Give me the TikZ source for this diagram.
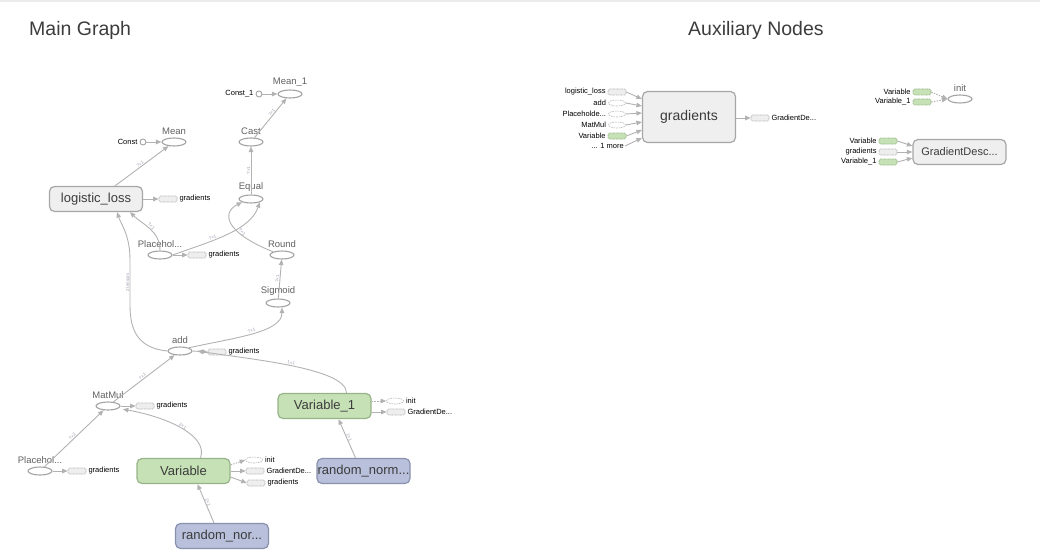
\documentclass[tikz,border=0pt]{standalone}
\usepackage{fontspec}
\setmainfont{Liberation Sans}
\usetikzlibrary{shapes.geometric, positioning, arrows.meta}

\definecolor{edgegrey}{HTML}{B2B2B2}
\definecolor{edgetxt}{HTML}{9A9CB0}
\definecolor{opline}{HTML}{A4A4A4}
\definecolor{nametxt}{HTML}{606060}
\definecolor{boxfill}{HTML}{EFEFEF}
\definecolor{boxline}{HTML}{A6A6A6}
\definecolor{boxtxt}{HTML}{3C3C3C}
\definecolor{varfill}{HTML}{C6E1B5}
\definecolor{varline}{HTML}{97B488}
\definecolor{randfill}{HTML}{B8C0DB}
\definecolor{randline}{HTML}{8A91AC}
\definecolor{stubfill}{HTML}{EEEEEE}
\definecolor{stubline}{HTML}{B4B4B4}
\definecolor{topline}{HTML}{EBEBEB}

\tikzset{
	title/.style={font=\fontsize{19.5}{21}\selectfont, text=boxtxt, inner sep=0pt},
	op/.style={ellipse, draw=opline, fill=white, line width=1.1pt, minimum width=24pt, minimum height=8pt, inner sep=0pt},
	opname/.style={font=\fontsize{9.5}{10}\selectfont, text=nametxt, inner sep=0pt},
	const/.style={circle, draw=opline, fill=white, line width=0.9pt, minimum size=6pt, inner sep=0pt},
	meta/.style={draw=boxline, fill=boxfill, line width=1.2pt, rounded corners=5pt, minimum width=93pt, minimum height=25pt, inner sep=0pt, font=\fontsize{13}{14}\selectfont, text=boxtxt},
	varbox/.style={meta, draw=varline, fill=varfill},
	randbox/.style={meta, draw=randline, fill=randfill},
	stubrect/.style={draw=stubline, fill=stubfill, dash pattern=on 1pt off 0.6pt, line width=0.6pt, rounded corners=1.5pt, minimum width=18pt, minimum height=6pt, inner sep=0pt},
	stubop/.style={ellipse, draw=stubline, fill=white, dash pattern=on 1.5pt off 1pt, line width=0.6pt, minimum width=17pt, minimum height=6pt, inner sep=0pt},
	stubvar/.style={stubrect, draw=varline, fill=varfill},
	small/.style={font=\fontsize{7.5}{8}\selectfont, inner sep=1pt},
	flow/.style={draw=edgegrey, line width=0.9pt, -{Triangle[length=5.5pt, width=4.5pt]}},
	ctrl/.style={flow, dash pattern=on 1.5pt off 1.2pt},
	elab/.style={font=\fontsize{4.5}{5}\selectfont, text=edgetxt, sloped, inner sep=0.5pt}
}

\begin{document}
\begin{tikzpicture}[x=1pt, y=-1pt]
	\useasboundingbox (0,0) rectangle (1040,559);
	\fill[topline] (0,0) rectangle (1040,2);

	\node[title, anchor=west] (maintitle) at (29,30) {Main Graph};
	\node[title, anchor=west] (auxtitle) at (688,30) {Auxiliary Nodes};

	\node[op] (mean1) at (290,94) {};
	\node[opname, above=3pt of mean1] (mean1name) {Mean\_1};
	\node[const] (const1) at (259,94) {};
	\node[small, left=1pt of const1] (const1name) {Const\_1};
	\node[op] (cast) at (251,142) {};
	\node[opname, above=3pt of cast] (castname) {Cast};
	\node[op] (mean) at (174,142) {};
	\node[opname, above=3pt of mean] (meanname) {Mean};
	\node[const] (const) at (143,142) {};
	\node[small, left=1pt of const] (constname) {Const};
	\node[meta] (loss) at (96,199) {logistic\_loss};
	\node[stubrect] (lossgrad) at (168,199) {};
	\node[small, right=1pt of lossgrad] (lossgradname) {gradients};
	\node[op] (equal) at (251,199) {};
	\node[opname, above=3pt of equal] (equalname) {Equal};
	\node[op] (phy) at (160,255) {};
	\node[opname, above=3pt of phy] (phyname) {Placehol...};
	\node[stubrect] (phygrad) at (197,255) {};
	\node[small, right=1pt of phygrad] (phygradname) {gradients};
	\node[op] (round) at (282,255) {};
	\node[opname, above=3pt of round] (roundname) {Round};
	\node[op] (sigmoid) at (278,303) {};
	\node[opname, above=3pt of sigmoid] (sigmoidname) {Sigmoid};
	\node[op] (add) at (180,351) {};
	\node[opname, above=3pt of add] (addname) {add};
	\node[stubrect] (addgrad) at (217,352) {};
	\node[small, right=1pt of addgrad] (addgradname) {gradients};
	\node[op] (matmul) at (108,406) {};
	\node[opname, above=3pt of matmul] (matmulname) {MatMul};
	\node[stubrect] (matmulgrad) at (145,406) {};
	\node[small, right=1pt of matmulgrad] (matmulgradname) {gradients};
	\node[op] (phx) at (40,471) {};
	\node[opname, above=3pt of phx] (phxname) {Placehol...};
	\node[stubrect] (phxgrad) at (77,471) {};
	\node[small, right=1pt of phxgrad] (phxgradname) {gradients};
	\node[varbox] (var) at (183.5,471) {Variable};
	\node[stubop] (varinit) at (254,460) {};
	\node[small, right=1pt of varinit] (varinitname) {init};
	\node[stubrect] (vargd) at (255,471) {};
	\node[small, right=1pt of vargd] (vargdname) {GradientDe...};
	\node[stubrect] (vargrad) at (256,483) {};
	\node[small, right=1pt of vargrad] (vargradname) {gradients};
	\node[randbox] (rnw) at (222,536) {random\_nor...};
	\node[varbox] (var1) at (324.5,406) {Variable\_1};
	\node[stubop] (var1init) at (395,401) {};
	\node[small, right=1pt of var1init] (var1initname) {init};
	\node[stubrect] (var1gd) at (396,412) {};
	\node[small, right=1pt of var1gd] (var1gdname) {GradientDe...};
	\node[randbox] (rnb) at (363.5,471) {random\_norm...};

	\draw[flow] (const1) -- (mean1);
	\draw[flow] (const) -- (mean);
	\draw[flow] (cast) -- node[elab, above, pos=0.6] {?×1} (mean1);
	\draw[flow] (equal) -- node[elab, above] {?×1} (cast);
	\draw[flow] ([xshift=19pt]loss.north) -- node[elab, above] {?×1} (mean);
	\draw[flow] (loss.east) -- (lossgrad.west);
	\draw[flow] (phy.north) .. controls +(0,-20) and +(12,12) .. node[elab, above] {?×1} ([xshift=34pt]loss.south);
	\draw[flow] (phy.east) .. controls (215,240) and (250,230) .. node[elab, above, pos=0.35] {?×1} (equal.south east);
	\draw[flow] (round.north west) .. controls +(-50,-20) and +(-20,10) .. node[elab, above, pos=0.3] {?×1} (equal.south west);
	\draw[flow] (phy.east) -- (phygrad.west);
	\draw[flow] (sigmoid) -- node[elab, above] {?×1} (round);
	\draw[flow] (add.north east) .. controls +(45,-10) and +(0,25) .. node[elab, above] {?×1} ([xshift=4pt]sigmoid.south);
	\draw[flow] (add.west) .. controls +(-30,-3) and +(0,25) .. (130,305) -- node[elab, above] {2 tensors} (130,260) .. controls +(0,-25) and +(4,12) .. ([xshift=21pt]loss.south);
	\draw[flow] (add.east) -- (addgrad.west);
	\draw[flow] ([xshift=22pt]var1.north) .. controls +(0,-25) and +(50,8) .. node[elab, above] {1×1} ([xshift=5pt]add.east);
	\draw[flow] (matmul) -- node[elab, above] {?×1} (add);
	\draw[flow] (matmul.east) -- (matmulgrad.west);
	\draw[flow] ([xshift=17pt]var.north) .. controls +(8,-22) and +(45,8) .. node[elab, above] {2×1} ([xshift=6pt]matmul.south east);
	\draw[flow] (phx) -- node[elab, above] {?×2} (matmul);
	\draw[flow] (phx.east) -- (phxgrad.west);
	\draw[ctrl] ([yshift=6pt]var.east) -- (varinit.west);
	\draw[flow] (var.east) -- (vargd.west);
	\draw[flow] ([yshift=-6pt]var.east) -- (vargrad.west);
	\draw[flow] ([xshift=-8pt]rnw.north) -- node[elab, above] {2×1} ([xshift=14pt]var.south);
	\draw[ctrl] ([yshift=5pt]var1.east) -- (var1init.west);
	\draw[flow] ([yshift=-6pt]var1.east) -- (var1gd.west);
	\draw[flow] ([xshift=-8pt]rnb.north) -- node[elab, above] {1×1} ([xshift=14pt]var1.south);

	\node[meta, minimum height=51pt, font=\fontsize{14}{15}\selectfont] (grads) at (689,117) {gradients};
	\foreach \y/\ey/\nm/\txt/\sty in {
		92/99/gin1/{logistic\_loss}/stubrect,
		103/106/gin2/{add}/stubop,
		114/113/gin3/{Placeholde...}/stubop,
		125/122/gin4/{MatMul}/stubop,
		136/130/gin5/{Variable}/stubvar}{
		\node[\sty] (\nm) at (617,\y) {};
		\node[small, left=1pt of \nm] (\nm name) {\txt};
		\draw[flow] (\nm.east) -- (grads.west |- 0,\ey);
	}
	\node[small, anchor=east] (gmore) at (625,146) {... 1 more};
	\draw[flow] (gmore.east) -- (grads.west |- 0,138);
	\node[stubrect] (gout) at (760,118) {};
	\node[small, right=1pt of gout] (goutname) {GradientDe...};
	\draw[flow] (grads.east |- gout) -- (gout.west);

	\node[op] (init) at (960,99) {};
	\node[opname, above=3pt of init] (initname) {init};
	\node[stubvar] (iin1) at (922,92) {};
	\node[small, left=1pt of iin1] (iin1name) {Variable};
	\node[stubvar] (iin2) at (922,102) {};
	\node[small, left=1pt of iin2] (iin2name) {Variable\_1};
	\draw[ctrl] (iin1.east) -- (init.west);
	\draw[ctrl] (iin2.east) -- (init.west);

	\node[meta, font=\fontsize{11}{12}\selectfont] (gdesc) at (959.5,152) {GradientDesc...};
	\node[stubvar] (gdin1) at (888,141) {};
	\node[small, left=1pt of gdin1] (gdin1name) {Variable};
	\node[stubrect] (gdin2) at (888,152) {};
	\node[small, left=1pt of gdin2] (gdin2name) {gradients};
	\node[stubvar] (gdin3) at (888,162) {};
	\node[small, left=1pt of gdin3] (gdin3name) {Variable\_1};
	\draw[flow] (gdin1.east) -- (gdesc.west |- 0,146);
	\draw[flow] (gdin2.east) -- (gdesc.west);
	\draw[flow] (gdin3.east) -- (gdesc.west |- 0,158);
\end{tikzpicture}
\end{document}
